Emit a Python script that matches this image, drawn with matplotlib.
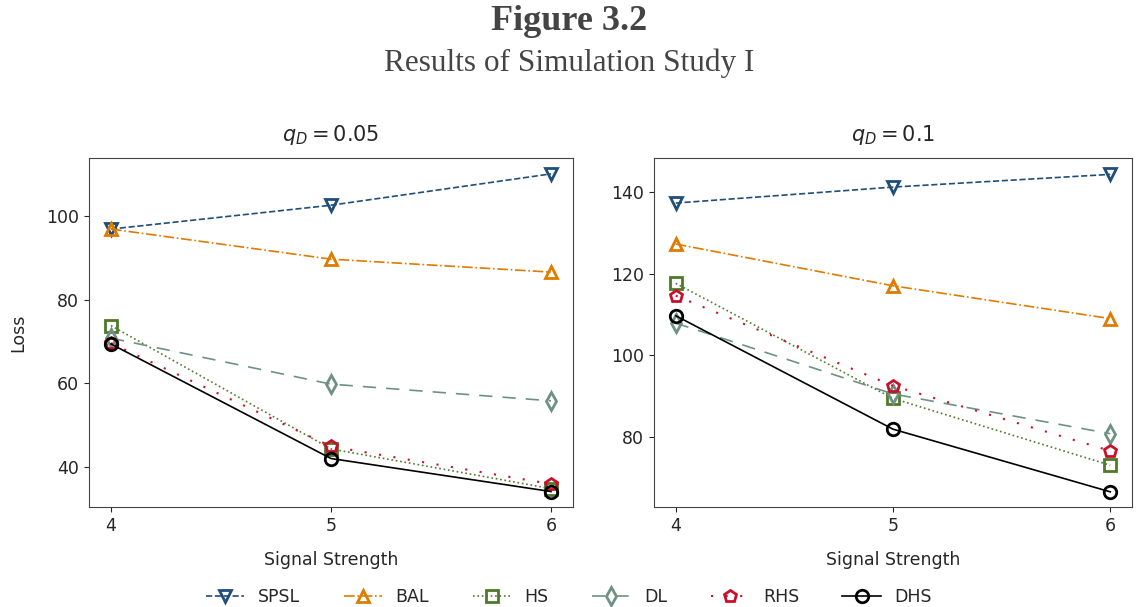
import numpy as np
import matplotlib
matplotlib.use("Agg")
import matplotlib.pyplot as plt

signal = [4, 5, 6]
methods = ["SPSL", "BAL", "HS", "DL", "RHS", "DHS"]

# loss per method, q_D = 0.05
loss_005 = {
    "SPSL": [96.9, 102.6, 110.1],
    "BAL":  [96.9, 89.7, 86.6],
    "HS":   [73.8, 44.3, 34.8],
    "DL":   [70.8, 59.8, 55.8],
    "RHS":  [69.6, 44.9, 35.9],
    "DHS":  [69.4, 42.0, 34.1],
}
# loss per method, q_D = 0.1
loss_01 = {
    "SPSL": [137.2, 141.1, 144.2],
    "BAL":  [127.2, 117.0, 109.0],
    "HS":   [117.6, 89.5, 73.2],
    "DL":   [107.9, 90.6, 80.9],
    "RHS":  [114.6, 92.6, 76.7],
    "DHS":  [109.7, 82.0, 66.7],
}

styles = {
    "SPSL": dict(color="#1f4e79", ls="--", marker="v", lw=1.2),
    "BAL":  dict(color="#e07b00", ls="-.", marker="^", lw=1.2),
    "HS":   dict(color="#4f7a28", ls=":", marker="s", lw=1.2),
    "DL":   dict(color="#6f9184", ls=(0, (8, 6)), marker="d", lw=1.2),
    "RHS":  dict(color="#c8102e", ls=(0, (1, 6)), marker="p", lw=1.5),
    "DHS":  dict(color="black", ls="-", marker="o", lw=1.2),
}

txt = "#262626"
plt.rcParams.update({"font.size": 12.5, "text.color": txt, "axes.labelcolor": txt,
                     "xtick.color": txt, "ytick.color": txt, "axes.edgecolor": "#444444"})

fig = plt.figure(figsize=(11.38, 6.07), dpi=100)
W, H = 1138, 607
ax1 = fig.add_axes([89 / W, 1 - 507 / H, (573 - 89) / W, (507 - 158) / H])
ax2 = fig.add_axes([654 / W, 1 - 507 / H, (1132 - 654) / W, (507 - 158) / H])

for ax, data, title in [(ax1, loss_005, r"$q_D = 0.05$"), (ax2, loss_01, r"$q_D = 0.1$")]:
    for m in methods:
        st = styles[m]
        ax.plot(signal, data[m], color=st["color"], linestyle=st["ls"], lw=st["lw"],
                marker=st["marker"], markersize=9, markerfacecolor="none",
                markeredgewidth=2, label=m)
    ax.set_xticks(signal)
    ax.set_xlabel("Signal Strength", labelpad=12)
    ax.set_title(title, fontsize=15, pad=12)
    ax.tick_params(labelsize=12.5)

ax1.set_ylabel("Loss", labelpad=14)
ax1.set_yticks([40, 60, 80, 100])
ax2.set_yticks([80, 100, 120, 140])
ax1.set_ylim(30.4, 113.9)
ax2.set_ylim(63.0, 148.2)

handles, labels = ax1.get_legend_handles_labels()
fig.legend(handles, labels, loc="center", bbox_to_anchor=(0.5, 1 - 597 / H), ncol=6,
           frameon=False, fontsize=12.5, handlelength=2.2, columnspacing=2.5)

fig.text(0.5, 1 - 22 / H, "Figure 3.2", ha="center", va="center", fontsize=26,
         fontweight="bold", family="Liberation Serif", color="#444444")
fig.text(0.5, 1 - 63 / H, "Results of Simulation Study I", ha="center", va="center",
         fontsize=22.5, family="Liberation Serif", color="#444444")

fig.savefig("out.png", dpi=100)
